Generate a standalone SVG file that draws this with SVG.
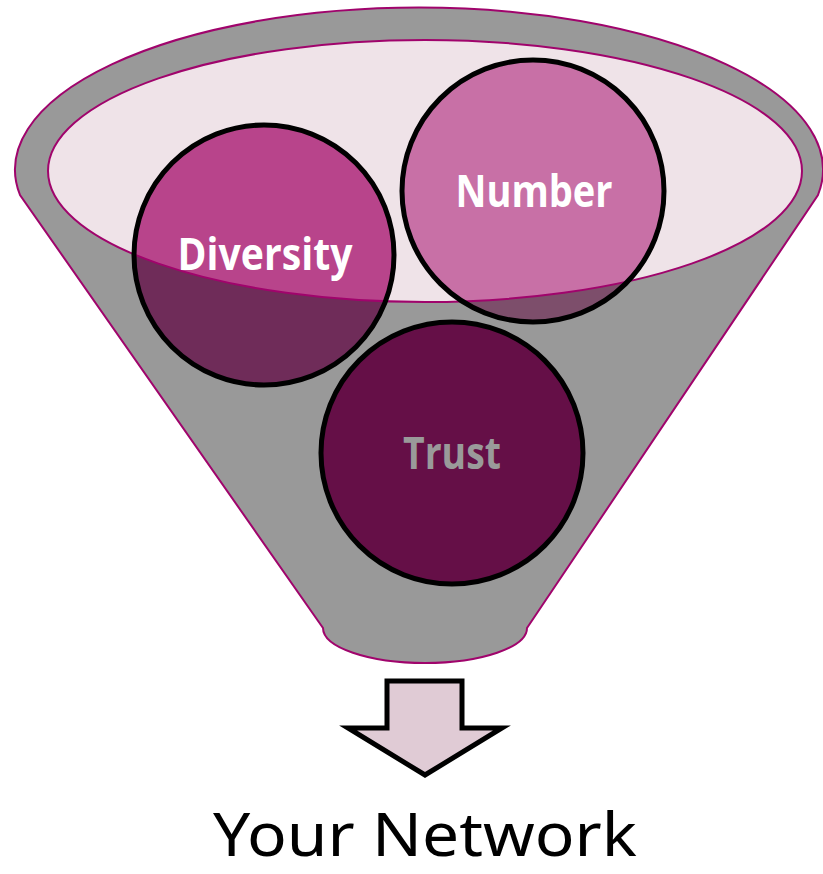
<svg xmlns="http://www.w3.org/2000/svg" width="823" height="874" viewBox="0 0 823 874">
<style>
.funnel{fill:#999999;stroke:#A0046C;stroke-width:2}
.rim{fill:#EFE3E8}
.rimline{fill:none;stroke:#A0046C;stroke-width:2}
.ring{fill:none;stroke:#000;stroke-width:5}
.lbl{font-family:"Open Sans","Noto Sans",sans-serif;font-weight:700;font-size:45px;text-anchor:middle}
.title{font-family:"Noto Sans","Open Sans",sans-serif;font-weight:400;font-size:60px;fill:#000;text-anchor:middle}
</style>
<defs>
<clipPath id="inner"><ellipse cx="425" cy="171" rx="377" ry="131"/></clipPath>
</defs>
<g id="funnel">
<path class="funnel" d="M20,195 A404,162 0 1 1 818,195 L527,628 A102,35 0 0 1 323,628 Z"/>
<ellipse class="rim" cx="425" cy="171" rx="377" ry="131"/>
</g>
<g id="node-diversity">
<circle cx="264" cy="255" r="130" fill="#6F2C59"/>
<circle cx="264" cy="255" r="130" fill="#B8448B" clip-path="url(#inner)"/>
</g>
<g id="node-number">
<circle cx="533" cy="191" r="131" fill="#7D4E6B"/>
<circle cx="533" cy="191" r="131" fill="#C870A6" clip-path="url(#inner)"/>
</g>
<ellipse class="rimline" cx="425" cy="171" rx="377" ry="131"/>
<g id="node-trust">
<circle cx="452" cy="453" r="131" fill="#650F47"/>
<circle class="ring" cx="452" cy="453" r="131"/>
<text class="lbl" x="452" y="469" fill="#9A9A9A" textLength="98" lengthAdjust="spacingAndGlyphs">Trust</text>
</g>
<g id="labels-top">
<circle class="ring" cx="264" cy="255" r="130"/>
<text class="lbl" x="265" y="270" fill="#FFFFFF" textLength="175" lengthAdjust="spacingAndGlyphs">Diversity</text>
<circle class="ring" cx="533" cy="191" r="131"/>
<text class="lbl" x="534" y="207" fill="#FFFFFF" textLength="157" lengthAdjust="spacingAndGlyphs">Number</text>
</g>
<g id="connectors">
<polygon points="387,681 462,681 462,728 502,728 425,775 348,728 387,728" fill="#E0CBD5" stroke="#000" stroke-width="5" stroke-linejoin="miter"/>
</g>
<g id="node-result">
<text class="title" x="425" y="856" textLength="424" lengthAdjust="spacingAndGlyphs">Your Network</text>
</g>
</svg>
